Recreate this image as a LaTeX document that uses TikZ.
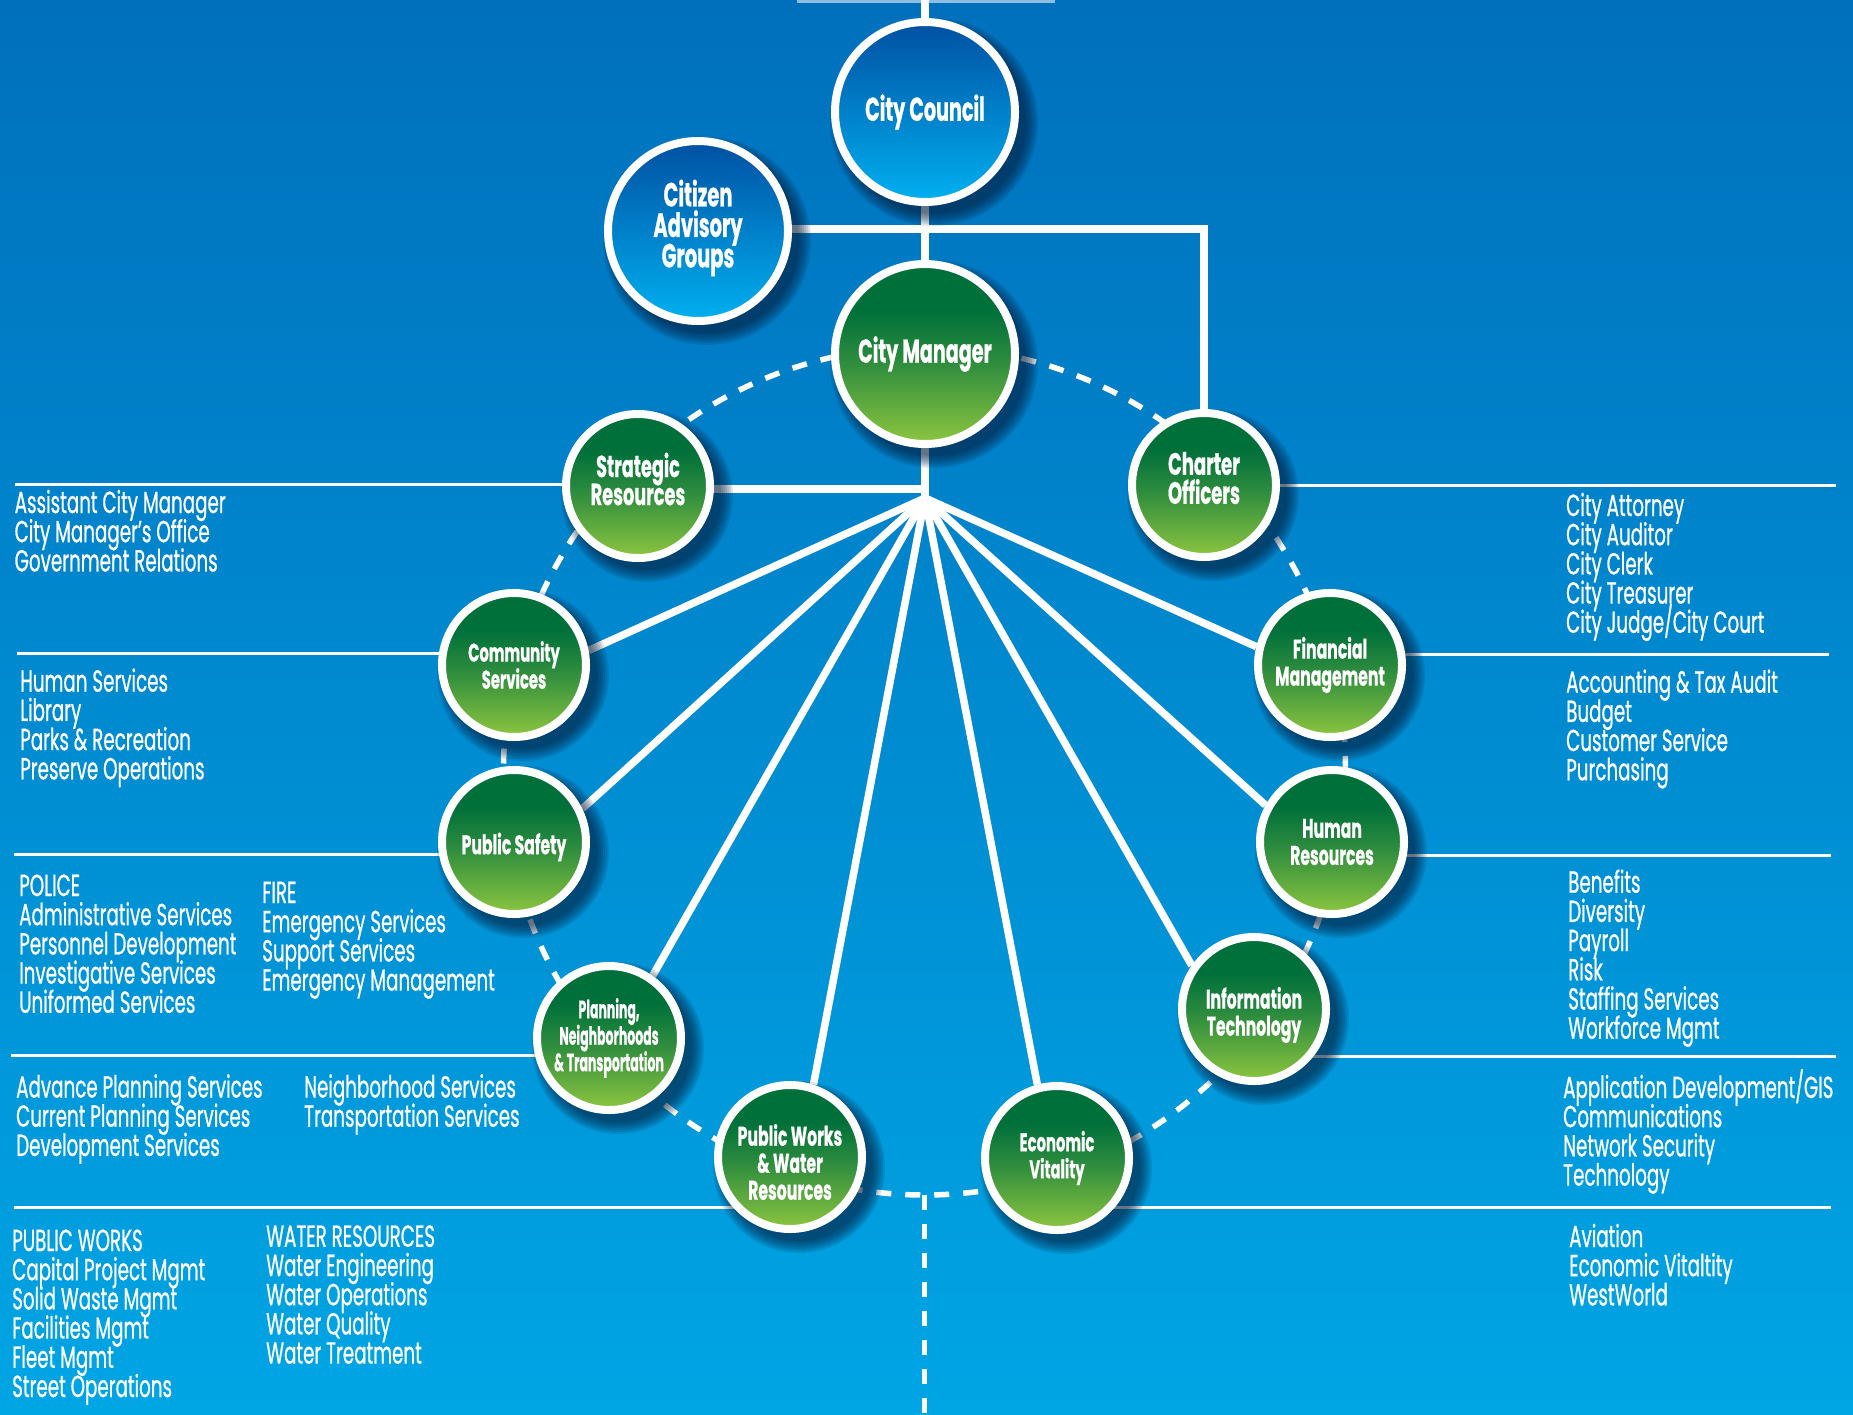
\documentclass[tikz,border=0pt]{standalone}
\usepackage{fontspec}
\usetikzlibrary{calc}
\newfontfamily\bodyfam{Poppins}[FakeStretch=0.6, FakeBold=0.7]
\newfontfamily\labfam{Poppins}[FakeStretch=0.58, FakeBold=0.6]
\newfontfamily\narfam{Poppins}[FakeStretch=0.5, FakeBold=0.6]
\definecolor{bgtop}{RGB}{0,112,188}
\definecolor{bgbot}{RGB}{0,165,228}
\definecolor{gT}{RGB}{0,112,58}
\definecolor{gM}{RGB}{45,140,62}
\definecolor{gB}{RGB}{141,198,63}
\definecolor{bT}{RGB}{0,80,162}
\definecolor{bB}{RGB}{0,176,240}
\definecolor{shcol}{RGB}{0,25,55}
\pgfdeclareverticalshading{greenball}{100bp}{color(0bp)=(gB); color(25bp)=(gB); color(48bp)=(gM); color(62bp)=(gT); color(100bp)=(gT)}
\pgfdeclareverticalshading{blueball}{100bp}{color(0bp)=(bB); color(25bp)=(bB); color(75bp)=(bT); color(100bp)=(bT)}
\pgfdeclarelayer{bg}
\pgfdeclarelayer{shade}
\pgfsetlayers{bg,shade,main}
\newcommand\labsize[2]{\fontsize{#1}{#2}\selectfont\lineskiplimit=-100pt}
\tikzset{
  ball/.style={circle, draw=white, line width=8pt, inner sep=0pt},
  bigball/.style={ball, minimum size=180pt},
  smallball/.style={ball, minimum size=144pt, shading=greenball},
  bluefill/.style={shading=blueball},
  greenfill/.style={shading=greenball},
  lab/.style={text=white, align=center, inner sep=0pt, font={\labfam\bfseries\labsize{27}{27}}},
  biglab/.style={lab, font={\labfam\bfseries\labsize{33}{29.5}}},
  conn/.style={draw=white, line width=7.5pt},
  sepline/.style={draw=white, line width=3pt},
  ringline/.style={draw=white, line width=5.5pt, dash pattern=on 15pt off 14pt},
  body/.style={anchor=base west, inner sep=0pt, text=white, font={\bodyfam\fontsize{30.5}{29.2}\selectfont}},
}
\newcommand\textblock[4]{\foreach \bline [count=\bi] in {#4}{\node[body] (#1\bi) at (#2,{#3+(\bi-1)*29.2}) {\bline};}}
\newcommand\ballshadow[2]{\foreach \k in {1,...,7}{\pgfmathsetlengthmacro\rr{(#2-4+2*\k)*1pt}\fill[shcol, opacity=0.12] ([shift={(9,10)}]#1.center) circle [radius=\rr];}}
\begin{document}
\begin{tikzpicture}[x=1pt,y=-1pt]
\useasboundingbox (0,0) rectangle (1853,1414);
% circles
\node[bigball, bluefill] (cc) at (925,112) {};
\node[bigball, bluefill] (cag) at (698,231) {};
\node[bigball, greenfill] (cm) at (925,354) {};
\node[smallball] (sr) at (638,486) {};
\node[smallball] (co) at (1204,485) {};
\node[smallball] (cs) at (514,665) {};
\node[smallball] (fm) at (1330,665) {};
\node[smallball] (ps) at (514,842) {};
\node[smallball] (hr) at (1332,842) {};
\node[smallball] (pnt) at (609,1038) {};
\node[smallball] (it) at (1254,1009) {};
\node[smallball] (pw) at (790,1157) {};
\node[smallball] (ev) at (1057,1158) {};
% circle labels
\node[biglab] (ccL) at (cc) {City Council};
\node[biglab, font={\labfam\bfseries\labsize{33.5}{30.5}}] (cagL) at ([yshift=3pt]cag.center) {Citizen\\Advisory\\Groups};
\node[biglab] (cmL) at (cm) {City Manager};
\node[lab, font={\labfam\bfseries\labsize{30.5}{28}}] (srL) at ([yshift=7pt]sr.center) {Strategic\\Resources};
\node[lab, font={\labfam\bfseries\labsize{31}{29}}] (coL) at ([yshift=7pt]co.center) {Charter\\Officers};
\node[lab, font={\labfam\bfseries\labsize{25.5}{27}}] (csL) at (cs) {Community\\Services};
\node[lab] (fmL) at (fm) {Financial\\Management};
\node[lab] (psL) at ([yshift=-5pt]ps.center) {Public Safety};
\node[lab] (hrL) at (hr) {Human\\Resources};
\node[lab, font={\narfam\bfseries\labsize{25}{26.5}}] (pntL) at (pnt) {Planning,\\Neighborhoods\\\& Transportation};
\node[lab] (itL) at ([yshift=-6pt]it.center) {Information\\Technology};
\node[lab] (pwL) at ([yshift=-5pt]pw.center) {Public Works\\\& Water\\Resources};
\node[lab, font={\labfam\bfseries\labsize{25.5}{27}}] (evL) at (ev) {Economic\\Vitality};
% texts
\textblock{srt}{14.5}{513}{Assistant City Manager,City Manager’s Office,Government Relations}
\textblock{cst}{20}{691.7}{Human Services,Library,Parks \& Recreation,Preserve Operations}
\textblock{pol}{19}{896}{POLICE,Administrative Services,Personnel Development,Investigative Services,Uniformed Services}
\textblock{fir}{262}{903}{FIRE,Emergency Services,Support Services,Emergency Management}
\textblock{plt}{16}{1097.5}{Advance Planning Services,Current Planning Services,Development Services}
\textblock{nbt}{304}{1097.5}{Neighborhood Services,Transportation Services}
\textblock{pwt}{12}{1251}{PUBLIC WORKS,Capital Project Mgmt,Solid Waste Mgmt,Facilities Mgmt,Fleet Mgmt,Street Operations}
\textblock{wrt}{266}{1246.8}{WATER RESOURCES,Water Engineering,Water Operations,Water Quality,Water Treatment}
\textblock{cot}{1566}{516}{City Attorney,City Auditor,City Clerk,City Treasurer,City Judge/City Court}
\textblock{fmt}{1566}{692.7}{Accounting \& Tax Audit,Budget,Customer Service,Purchasing}
\textblock{hrt}{1568}{892.7}{Benefits,Diversity,Payroll,Risk,Staffing Services,Workforce Mgmt}
\textblock{itt}{1563}{1098}{Application Development/GIS,Communications,Network Security,Technology}
\textblock{evt}{1569}{1247}{Aviation,Economic Vitaltity,WestWorld}
% shadows
\begin{pgfonlayer}{shade}
\ballshadow{cc}{94}\ballshadow{cag}{94}\ballshadow{cm}{94}
\foreach \n in {sr,co,cs,fm,ps,hr,pnt,it,pw,ev}{\ballshadow{\n}{76}}
\end{pgfonlayer}
% lines
\begin{pgfonlayer}{bg}
\shade[top color=bgtop, bottom color=bgbot] (0,0) rectangle (1853,1414);
\coordinate (tl1) at (797,1.5); \coordinate (tl2) at (1055,1.5);
\draw[line width=3pt, draw=white!55!bgtop] (tl1) -- (tl2);
\coordinate (l1) at (14.5,484.5); \draw[sepline] (l1) -- (l1 -| sr.center);
\coordinate (l2) at (17,653.5); \draw[sepline] (l2) -- (l2 -| cs.center);
\coordinate (l3) at (14,854.5); \draw[sepline] (l3) -- (l3 -| ps.center);
\coordinate (l4) at (10.5,1055.8); \draw[sepline] (l4) -- (l4 -| pnt.center);
\coordinate (l5) at (14,1207.5); \draw[sepline] (l5) -- (l5 -| pw.center);
\coordinate (r1) at (1836,485); \draw[sepline] (r1) -- (r1 -| co.center);
\coordinate (r2) at (1829,654.5); \draw[sepline] (r2) -- (r2 -| fm.center);
\coordinate (r3) at (1831,855.5); \draw[sepline] (r3) -- (r3 -| hr.center);
\coordinate (r4) at (1836,1056); \draw[sepline] (r4) -- (r4 -| it.center);
\coordinate (r5) at (1831,1207.7); \draw[sepline] (r5) -- (r5 -| ev.center);
\coordinate (ringc) at (924.5,771);
\coordinate (ringb) at (924.5,1195);
\coordinate (bot) at (924.5,1414);
\draw[ringline] (ringc) ellipse [x radius=421pt, y radius=424pt];
\draw[ringline] (ringb) -- (bot);
\coordinate (topc) at (925,0);
\coordinate (hub) at (925,498);
\coordinate (hubsr) at (925,489);
\coordinate (cagj) at (1204,229);
\draw[conn] (topc) -- (cc);
\draw[conn] (cc) -- (cm);
\draw[conn] (cag.center |- cagj) -- (cagj) -- (co);
\draw[conn] (sr.center |- hubsr) -- (hubsr);
\draw[conn] (cm) -- (hub);
\foreach \n/\a in {cs/11.5, ps/26.3, pnt/55.7, pw/72, ev/105, it/145.5, hr/151, fm/166.3}{\draw[conn] (hub) -- (\n.\a);}
\end{pgfonlayer}
\end{tikzpicture}
\end{document}
